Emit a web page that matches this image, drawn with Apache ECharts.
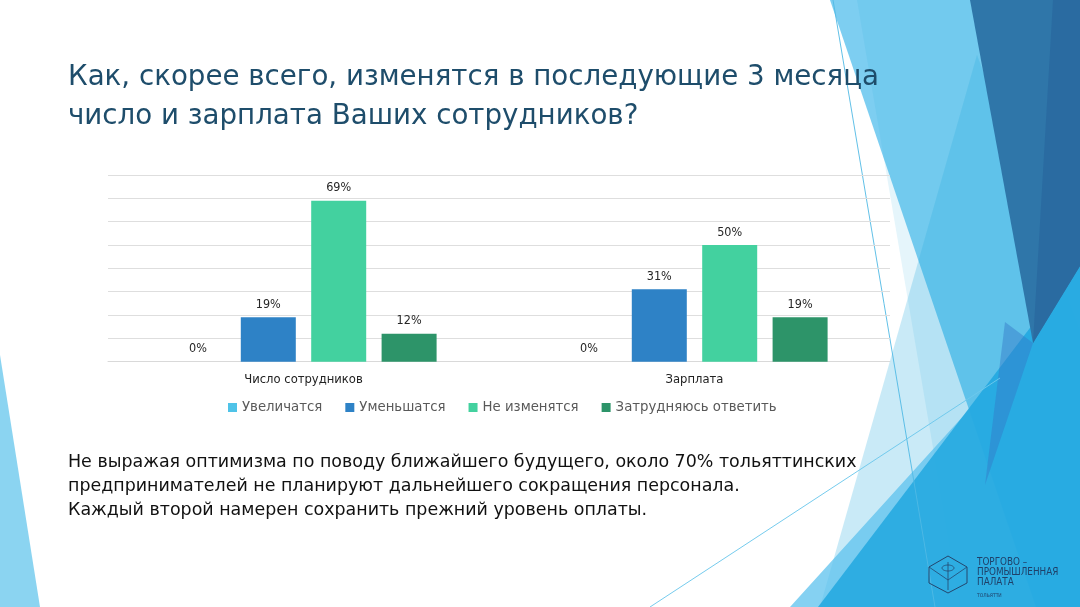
<!DOCTYPE html>
<html>
<head>
<meta charset="utf-8">
<script src="https://cdn.jsdelivr.net/npm/echarts@6/dist/echarts.min.js"></script>
<style>
html,body{margin:0;padding:0;background:#fff;}
#c{width:1080px;height:607px;}
</style>
</head>
<body>
<div id="c"></div>
<script>
const categories = ['Число сотрудников', 'Зарплата'];
const seriesNames = ['Увеличатся', 'Уменьшатся', 'Не изменятся', 'Затрудняюсь ответить'];
const increase = [0, 0];
const decrease = [19, 31];
const noChange = [69, 50];
const hardToSay = [12, 19];
const yTicks = [0, 10, 20, 30, 40, 50, 60, 70, 80];

const titleLines = ['Как, скорее всего, изменятся в последующие 3 месяца', 'число и зарплата Ваших сотрудников?'];
const bodyLines = [
  'Не выражая оптимизма по поводу ближайшего будущего, около 70% тольяттинских',
  'предпринимателей не планируют дальнейшего сокращения персонала.',
  'Каждый второй намерен сохранить прежний уровень оплаты.'
];
const logoLines = ['ТОРГОВО –', 'ПРОМЫШЛЕННАЯ', 'ПАЛАТА'];

const FONT = '"DejaVu Sans", sans-serif';
const FONT_C = '"DejaVu Sans Condensed", "DejaVu Sans", sans-serif';
const colors = ['#4fc3e8', '#2e82c6', '#43d19f', '#2d9469'];
const seriesData = [increase, decrease, noChange, hardToSay];

const chart = echarts.init(document.getElementById('c'));

function poly(points, fill, z) {
  return { type: 'polygon', z: z || 0, silent: true, shape: { points: points }, style: { fill: fill } };
}
function line(x1, y1, x2, y2, stroke) {
  return { type: 'line', z: 0, silent: true, shape: { x1: x1, y1: y1, x2: x2, y2: y2 }, style: { stroke: stroke, lineWidth: 1 } };
}
function text(t, x, y, size, fill, family) {
  return { type: 'text', z: 10, silent: true, style: { text: t, x: x, y: y, fill: fill, fontSize: size, fontFamily: family || FONT, verticalAlign: 'middle', align: 'left' } };
}

const graphics = [
  // left sliver
  poly([[0, 355], [40, 607], [0, 607]], '#8bd4f1'),
  // decorative right shapes
  poly([[830, 0], [1080, 0], [1080, 607], [1036, 607]], 'rgba(92,194,238,0.8)'),
  poly([[857, 0], [1080, 0], [1080, 607], [960, 607]], 'rgba(40,170,225,0.12)'),
  poly([[977, 55], [1080, 330], [1080, 607], [820, 607]], 'rgba(40,170,225,0.25)'),
  poly([[790, 607], [965, 414], [1080, 263], [1080, 607]], 'rgba(92,194,238,0.75)'),
  poly([[818, 607], [1080, 262], [1080, 607]], 'rgba(27,165,222,0.8)'),
  poly([[970, 0], [1080, 0], [1080, 266], [1033, 343]], '#2f76a9'),
  poly([[1053, 0], [1080, 0], [1080, 266], [1033, 343]], '#2a6ba1'),
  poly([[1005, 322], [1033, 343], [985, 485]], 'rgba(52,120,200,0.45)'),
  line(833, 0, 935, 607, 'rgba(80,185,228,0.9)'),
  line(650, 607, 1000, 378, 'rgba(110,200,236,0.95)'),
  // logo
  { type: 'polygon', z: 5, silent: true, shape: { points: [[929, 567], [948, 556], [967, 567], [967, 583], [948, 593], [929, 583]] }, style: { fill: 'none', stroke: '#24466e', lineWidth: 1 } },
  { type: 'polyline', z: 5, silent: true, shape: { points: [[929, 567], [948, 580], [967, 567]] }, style: { fill: 'none', stroke: '#24466e', lineWidth: 0.8 } },
  { type: 'line', z: 5, silent: true, shape: { x1: 948, y1: 562, x2: 948, y2: 590 }, style: { stroke: '#24466e', lineWidth: 0.8 } },
  { type: 'ellipse', z: 5, silent: true, shape: { cx: 948, cy: 568, rx: 6, ry: 3 }, style: { fill: 'none', stroke: '#24466e', lineWidth: 0.8 } },
  text(logoLines[0], 977, 562.5, 9.8, '#1f4069', FONT_C),
  text(logoLines[1], 977, 572.5, 9.8, '#1f4069', FONT_C),
  text(logoLines[2], 977, 582.5, 9.8, '#1f4069', FONT_C),
  text('ТОЛЬЯТТИ', 977, 596, 5, '#1f4069', FONT_C),
  // title
  text(titleLines[0], 68, 78, 27.7, '#1e4d6b'),
  text(titleLines[1], 68, 117, 27.7, '#1e4d6b'),
  // body
  text(bodyLines[0], 68, 462, 17.45, '#111111'),
  text(bodyLines[1], 68, 486, 17.45, '#111111'),
  text(bodyLines[2], 68, 510, 17.45, '#111111')
];

const option = {
  animation: false,
  backgroundColor: '#ffffff',
  textStyle: { fontFamily: FONT },
  graphic: { elements: graphics },
  grid: { left: 108, right: 190, top: 175, bottom: 245.3, containLabel: false },
  legend: {
    data: seriesNames,
    left: 223,
    top: 396,
    itemWidth: 9,
    itemHeight: 9,
    itemGap: 23,
    icon: 'rect',
    textStyle: { fontSize: 13.3, color: '#595959', fontFamily: FONT }
  },
  xAxis: {
    type: 'category',
    data: categories,
    axisTick: { show: false },
    axisLine: { show: true, lineStyle: { color: '#d9d9d9', width: 1 } },
    axisLabel: { fontSize: 11.6, color: '#222222', margin: 12, fontFamily: FONT }
  },
  yAxis: {
    type: 'value',
    min: yTicks[0],
    max: yTicks[yTicks.length - 1],
    interval: yTicks[1] - yTicks[0],
    axisLabel: { show: false },
    axisLine: { show: false },
    axisTick: { show: false },
    splitLine: { lineStyle: { color: '#dedede', width: 1 } }
  },
  series: seriesNames.map(function (name, i) {
    return {
      name: name,
      type: 'bar',
      data: seriesData[i],
      barWidth: 55,
      barGap: '28%',
      itemStyle: { color: colors[i] },
      label: {
        show: true,
        position: 'top',
        distance: 6,
        formatter: '{c}%',
        fontSize: 12.5,
        color: '#262626',
        fontFamily: FONT_C
      }
    };
  })
};

chart.setOption(option);
</script>
</body>
</html>
